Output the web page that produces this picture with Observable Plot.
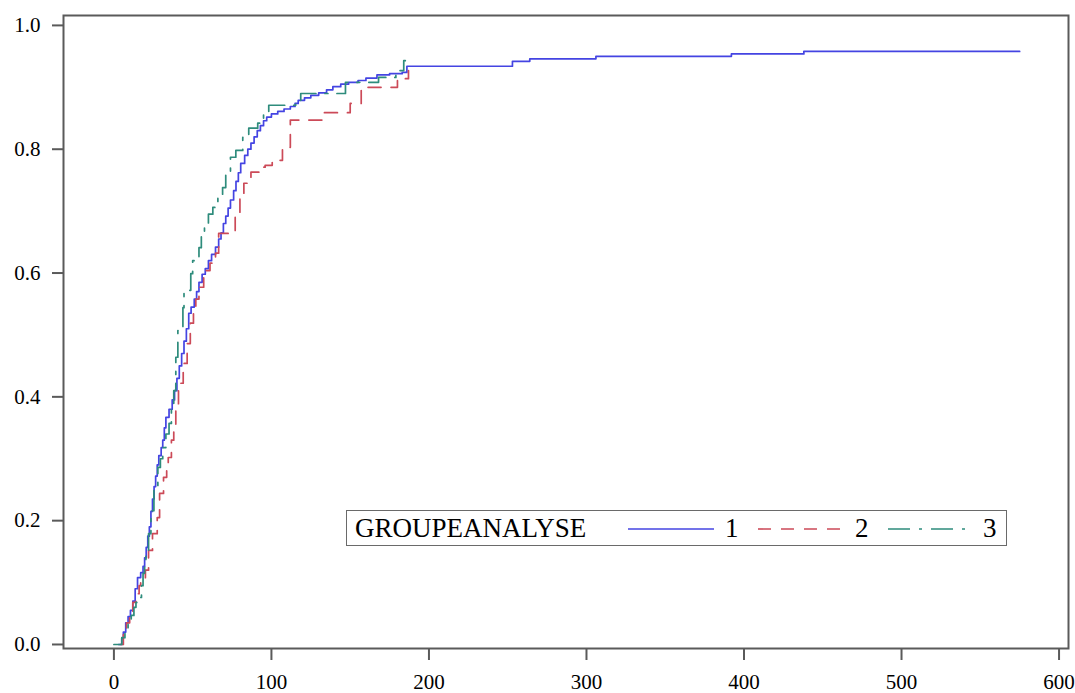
<!DOCTYPE html>
<html>
<head>
<meta charset="utf-8">
<script src="https://cdn.jsdelivr.net/npm/d3@7"></script>
<script src="https://cdn.jsdelivr.net/npm/@observablehq/plot@0.6"></script>
<style>
  html, body { margin: 0; padding: 0; background: #fff; }
  #wrap { position: relative; width: 1075px; height: 693px; font-family: "Liberation Serif", "DejaVu Serif", serif; }
  #wrap svg text { font-family: "Liberation Serif", "DejaVu Serif", serif !important; font-size: 21px !important; }
  #legend { position: absolute; left: 346px; top: 510px; width: 659px; height: 34px; border: 1.5px solid #6a6a6a; background: #fff; box-sizing: content-box; }
  #legend span { position: absolute; top: -1px; line-height: 36px; font-size: 27px; color: #000; }
  #legend svg { position: absolute; top: 0; }
</style>
</head>
<body>
<div id="wrap"></div>
<script>
// ---- data ----
const legendTitle = "GROUPEANALYSE";
const groups = ["1", "2", "3"];
const groupColors = ["#4444e2", "#cc4a58", "#2e8c7c"];
const groupDash = [null, "13,10", "22,9,3,9"];
const xTicks = [0, 100, 200, 300, 400, 500, 600];
const yTicks = [0.0, 0.2, 0.4, 0.6, 0.8, 1.0];

const g1Time = [3,5,6,7.5,9,10.5,12,13.5,15,17,18.5,19.5,20.5,21.5,22.5,23.5,24.5,25.5,26.5,27.5,28.5,30,31,32,33,35,37,38.5,40,41.5,43,44.5,46,47.5,49,51,52.5,54,56,58,60,62,64.5,66.5,68,69.5,71,72.5,74,76,77.5,79,80.5,83,85,87,89,91,93,95,97,100,104,108,112,115,117,121,125,130,135,139,144,149,155,160,167,175,183,186,253,264,306,392,438,575];
const g1Prob = [0,0.01,0.02,0.035,0.045,0.055,0.07,0.09,0.108,0.116,0.126,0.14,0.157,0.175,0.19,0.215,0.235,0.255,0.272,0.29,0.305,0.318,0.33,0.35,0.367,0.38,0.395,0.41,0.43,0.45,0.47,0.49,0.51,0.535,0.545,0.558,0.57,0.585,0.598,0.607,0.62,0.63,0.642,0.655,0.665,0.68,0.692,0.705,0.718,0.733,0.748,0.762,0.777,0.79,0.8,0.81,0.82,0.83,0.838,0.846,0.852,0.857,0.861,0.865,0.869,0.874,0.879,0.883,0.887,0.891,0.896,0.901,0.905,0.908,0.911,0.915,0.92,0.922,0.924,0.934,0.942,0.946,0.95,0.954,0.958,0.958];

const g2Time = [4,6,8,10,12,14,16,17,20,22,24.5,27.5,29,31.5,33.5,34.5,36.5,38,39.3,41,44,46.5,48.5,50.5,52,54,57,61,64.5,66.5,77,80,82.5,87,92,96,100.5,107,112,133,150,157,180,187];
const g2Prob = [0,0.018,0.035,0.05,0.068,0.082,0.095,0.103,0.12,0.152,0.179,0.205,0.244,0.27,0.29,0.302,0.33,0.351,0.389,0.422,0.454,0.486,0.519,0.54,0.558,0.577,0.604,0.616,0.632,0.664,0.69,0.729,0.745,0.763,0.771,0.774,0.782,0.803,0.847,0.859,0.874,0.9,0.914,0.927];

const g3Time = [0,5,7,9,11,12.7,14,16,17.5,18.5,19.5,20.3,22,23.5,25.4,27.9,29.5,31,33,35,36.5,38,39.3,40.6,43.8,44.5,48.8,50,54,55.5,57.5,60,62.8,66,69,71,74,77.4,81.8,85.6,91.3,95,98.3,115.4,118.6,147,168,179,184,185];
const g3Prob = [0,0.011,0.022,0.034,0.047,0.06,0.068,0.076,0.095,0.115,0.13,0.147,0.179,0.216,0.254,0.286,0.3,0.318,0.34,0.357,0.385,0.41,0.464,0.507,0.544,0.572,0.599,0.62,0.641,0.66,0.68,0.695,0.706,0.722,0.738,0.761,0.787,0.798,0.819,0.834,0.842,0.859,0.871,0.879,0.89,0.908,0.916,0.927,0.943,0.943];

const series = [
  {group: "1", time: g1Time, prob: g1Prob},
  {group: "2", time: g2Time, prob: g2Prob},
  {group: "3", time: g3Time, prob: g3Prob}
];

const lineMarks = series.map((s, i) => {
  const rows = s.time.map((t, j) => ({t, p: s.prob[j]}));
  return Plot.line(rows, {
    x: "t", y: "p", curve: "step-after",
    stroke: groupColors[i], strokeWidth: 1.7,
    strokeDasharray: groupDash[i] || undefined
  });
});

const serif = "'Liberation Serif', 'DejaVu Serif', serif";

const chart = Plot.plot({
  width: 1075,
  height: 693,
  marginLeft: 63,
  marginRight: 7,
  marginTop: 15,
  marginBottom: 45,
  style: {fontFamily: serif, fontSize: "21px", background: "#fff", color: "#000"},
  x: {domain: [-32, 606]},
  y: {domain: [-0.0065, 1.016]},
  marks: [
    ...lineMarks,
    Plot.frame({stroke: "#5a5a5a", strokeWidth: 2}),
    Plot.axisX({ticks: xTicks, tickSize: 12, tickPadding: 14, stroke: "#5a5a5a", strokeWidth: 2, fill: "#000",
      fontFamily: serif, fontSize: 21, label: null, tickFormat: d => String(d)}),
    Plot.axisY({ticks: yTicks, tickSize: 11, tickPadding: 12, stroke: "#5a5a5a", strokeWidth: 2, fill: "#000",
      fontFamily: serif, fontSize: 21, label: null, tickFormat: d => d.toFixed(1)})
  ]
});

const wrap = document.getElementById("wrap");
wrap.appendChild(chart);
d3.select(chart).selectAll("text").style("font-family", serif).style("font-size", "21px");

// legend box inside the plot area
const legend = document.createElement("div");
legend.id = "legend";
const items = [
  {kind: "text", text: legendTitle, left: 8},
  {kind: "line", i: 0, left: 281, w: 86},
  {kind: "text", text: groups[0], left: 378},
  {kind: "line", i: 1, left: 411, w: 82},
  {kind: "text", text: groups[1], left: 508},
  {kind: "line", i: 2, left: 541, w: 80},
  {kind: "text", text: groups[2], left: 636}
];
for (const it of items) {
  if (it.kind === "text") {
    const s = document.createElement("span");
    s.textContent = it.text;
    s.style.left = it.left + "px";
    legend.appendChild(s);
  } else {
    const svg = d3.create("svg").attr("width", it.w).attr("height", 34).style("left", it.left + "px");
    svg.append("line").attr("x1", 0).attr("x2", it.w).attr("y1", 18).attr("y2", 18)
      .attr("stroke", groupColors[it.i]).attr("stroke-width", 1.6)
      .attr("stroke-dasharray", groupDash[it.i]);
    legend.appendChild(svg.node());
  }
}
wrap.appendChild(legend);
</script>
</body>
</html>
